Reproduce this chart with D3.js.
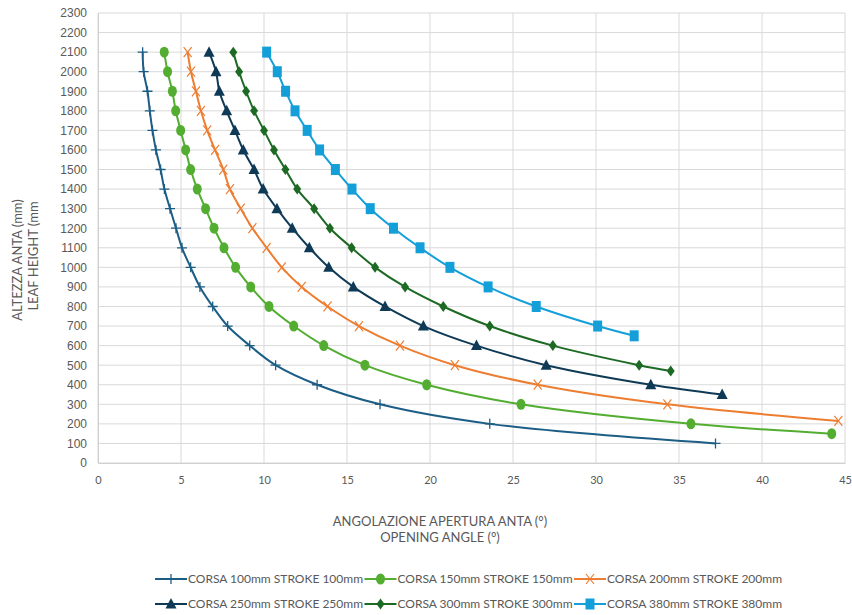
<!DOCTYPE html>
<html>
<head>
<meta charset="utf-8">
<script src="https://cdn.jsdelivr.net/npm/d3@7"></script>
<style>
  body { margin: 0; background: #fff; }
  svg { display: block; font-family: Lato, "Open Sans", sans-serif; }
</style>
</head>
<body>
<div id="chart"></div>
<script>
// valori: altezza anta (mm) e angolo di apertura (°)
const h100 = [2100, 2000, 1900, 1800, 1700, 1600, 1500, 1400, 1300, 1200, 1100, 1000, 900, 800, 700, 600, 500, 400, 300, 200, 100];
const a100 = [2.69, 2.75, 2.98, 3.12, 3.28, 3.49, 3.77, 4.0, 4.34, 4.7, 5.06, 5.58, 6.14, 6.91, 7.81, 9.14, 10.7, 13.2, 16.99, 23.6, 37.2];

const h150 = [2100, 2000, 1900, 1800, 1700, 1600, 1500, 1400, 1300, 1200, 1100, 1000, 900, 800, 700, 600, 500, 400, 300, 200, 150];
const a150 = [3.99, 4.19, 4.48, 4.68, 4.98, 5.28, 5.58, 5.98, 6.48, 6.99, 7.59, 8.29, 9.2, 10.3, 11.79, 13.6, 16.08, 19.8, 25.48, 35.72, 44.2];

const h200 = [2100, 2000, 1900, 1800, 1700, 1600, 1500, 1400, 1300, 1200, 1100, 1000, 900, 800, 700, 600, 500, 400, 300, 215];
const a200 = [5.4, 5.6, 5.9, 6.2, 6.58, 7.05, 7.55, 7.95, 8.6, 9.3, 10.16, 11.07, 12.27, 13.83, 15.72, 18.19, 21.5, 26.49, 34.3, 44.6];

const h250 = [2100, 2000, 1900, 1800, 1700, 1600, 1500, 1400, 1300, 1200, 1100, 1000, 900, 800, 700, 600, 500, 400, 350];
const a250 = [6.69, 7.11, 7.31, 7.75, 8.25, 8.75, 9.4, 9.95, 10.78, 11.7, 12.73, 13.9, 15.38, 17.29, 19.6, 22.8, 27.0, 33.3, 37.6];

const h300 = [2100, 2000, 1900, 1800, 1700, 1600, 1500, 1400, 1300, 1200, 1100, 1000, 900, 800, 700, 600, 500, 470];
const a300 = [8.15, 8.5, 8.92, 9.4, 10.0, 10.6, 11.29, 12.0, 13.02, 13.97, 15.28, 16.69, 18.5, 20.8, 23.6, 27.4, 32.6, 34.5];

const h380 = [2100, 2000, 1900, 1800, 1700, 1600, 1500, 1400, 1300, 1200, 1100, 1000, 900, 800, 700, 650];
const a380 = [10.16, 10.8, 11.3, 11.87, 12.6, 13.35, 14.3, 15.3, 16.4, 17.8, 19.4, 21.2, 23.5, 26.4, 30.1, 32.3];

const seriesNames = ["CORSA 100mm STROKE 100mm", "CORSA 150mm STROKE 150mm", "CORSA 200mm STROKE 200mm",
                     "CORSA 250mm STROKE 250mm", "CORSA 300mm STROKE 300mm", "CORSA 380mm STROKE 380mm"];
const xTicks = [0, 5, 10, 15, 20, 25, 30, 35, 40, 45];
const yTicks = d3.range(0, 2301, 100);

// Colori e simboli
const colors = ["#1c5d86", "#52ad31", "#ed7d31", "#0f3a56", "#1d6a24", "#159fd8"];
const symbols = ["plus", "circle", "cross", "triangle", "diamond", "square"];

const series = [
  {h: h100, a: a100}, {h: h150, a: a150}, {h: h200, a: a200},
  {h: h250, a: a250}, {h: h300, a: a300}, {h: h380, a: a380}
].map((s, i) => ({
  name: seriesNames[i], color: colors[i], symbol: symbols[i],
  points: s.h.map((v, j) => ({x: s.a[j], y: v}))
}));

const W = 852, H = 615;
const margin = {top: 13, right: 7, bottom: 152, left: 98};
const width = W - margin.left - margin.right,
      height = H - margin.top - margin.bottom;

const svg = d3.select("#chart").append("svg")
    .attr("width", W).attr("height", H);

const g = svg.append("g")
    .attr("transform", `translate(${margin.left},${margin.top})`);

const x = d3.scaleLinear().domain([0, 45]).range([0, width]);
const y = d3.scaleLinear().domain([0, 2300]).range([height, 0]);

// griglia
g.append("g").selectAll("line").data(yTicks).join("line")
    .attr("x1", 0).attr("x2", width)
    .attr("y1", d => y(d)).attr("y2", d => y(d))
    .attr("stroke", "#d9d9d9").attr("stroke-width", 1);
g.append("g").selectAll("line").data(xTicks).join("line")
    .attr("y1", 0).attr("y2", height)
    .attr("x1", d => x(d)).attr("x2", d => x(d))
    .attr("stroke", "#d9d9d9").attr("stroke-width", 1);

// assi
const yAxis = g.append("g")
    .call(d3.axisLeft(y).tickValues(yTicks).tickFormat(d3.format("d")).tickSize(0).tickPadding(11));
yAxis.select(".domain").attr("stroke", "#d0d0d0");
yAxis.selectAll("text").attr("font-size", 12).attr("fill", "#595959");

const xAxis = g.append("g")
    .attr("transform", `translate(0,${height})`)
    .call(d3.axisBottom(x).tickValues(xTicks).tickSize(0).tickPadding(13));
xAxis.select(".domain").attr("stroke", "#d0d0d0");
xAxis.selectAll("text")
    .attr("font-size", 11)
    .attr("font-family", "'Liberation Sans Narrow', Lato, sans-serif")
    .attr("fill", "#595959");

// titoli assi
svg.append("text")
    .attr("transform", "translate(22,260) rotate(-90)")
    .attr("text-anchor", "middle")
    .attr("font-size", 13).attr("fill", "#595959")
    .text("ALTEZZA ANTA (mm)");
svg.append("text")
    .attr("transform", "translate(38,256) rotate(-90)")
    .attr("text-anchor", "middle")
    .attr("font-size", 13).attr("fill", "#595959")
    .text("LEAF HEIGHT (mm");

svg.append("text")
    .attr("x", 440).attr("y", 526)
    .attr("text-anchor", "middle")
    .attr("font-size", 13).attr("fill", "#595959")
    .text("ANGOLAZIONE APERTURA ANTA (°)");
svg.append("text")
    .attr("x", 440).attr("y", 542)
    .attr("text-anchor", "middle")
    .attr("font-size", 13).attr("fill", "#595959")
    .text("OPENING ANGLE (°)");

// disegno dei simboli
function drawMarker(sel, type, color) {
  if (type === "plus") {
    sel.append("path").attr("d", "M-5,0H5M0,-5V5")
      .attr("stroke", color).attr("stroke-width", 1.3).attr("fill", "none");
  } else if (type === "cross") {
    sel.append("path").attr("d", "M-4,-5L4,5M-4,5L4,-5")
      .attr("stroke", color).attr("stroke-width", 1.2).attr("fill", "none");
  } else if (type === "circle") {
    sel.append("ellipse").attr("rx", 4.5).attr("ry", 5.5).attr("fill", color);
  } else if (type === "triangle") {
    sel.append("path").attr("d", "M0,-6L5.5,4.5H-5.5Z").attr("fill", color);
  } else if (type === "diamond") {
    sel.append("path").attr("d", "M0,-5.5L4,0L0,5.5L-4,0Z").attr("fill", color);
  } else if (type === "square") {
    sel.append("rect").attr("x", -4.5).attr("y", -5.5).attr("width", 9).attr("height", 11).attr("fill", color);
  }
}

const line = d3.line()
    .x(d => x(d.x)).y(d => y(d.y))
    .curve(d3.curveCatmullRom.alpha(0.5));

series.forEach(s => {
  g.append("path")
    .datum(s.points)
    .attr("d", line)
    .attr("fill", "none")
    .attr("stroke", s.color)
    .attr("stroke-width", 2);
  g.append("g").selectAll("g").data(s.points).join("g")
    .attr("transform", d => `translate(${x(d.x)},${y(d.y)})`)
    .each(function() { drawMarker(d3.select(this), s.symbol, s.color); });
});

// legenda
const legend = svg.append("g");
series.forEach((s, i) => {
  const col = i % 3, row = Math.floor(i / 3);
  const lg = legend.append("g")
    .attr("transform", `translate(${155 + col * 209.5},${579 + row * 25})`);
  lg.append("line").attr("x1", 0).attr("x2", 32).attr("y1", 0).attr("y2", 0)
    .attr("stroke", s.color).attr("stroke-width", 2);
  drawMarker(lg.append("g").attr("transform", "translate(16,0)"), s.symbol, s.color);
  lg.append("text").attr("x", 33).attr("y", 0).attr("dy", "0.35em")
    .attr("font-size", 12).attr("fill", "#595959")
    .text(s.name);
});
</script>
</body>
</html>
